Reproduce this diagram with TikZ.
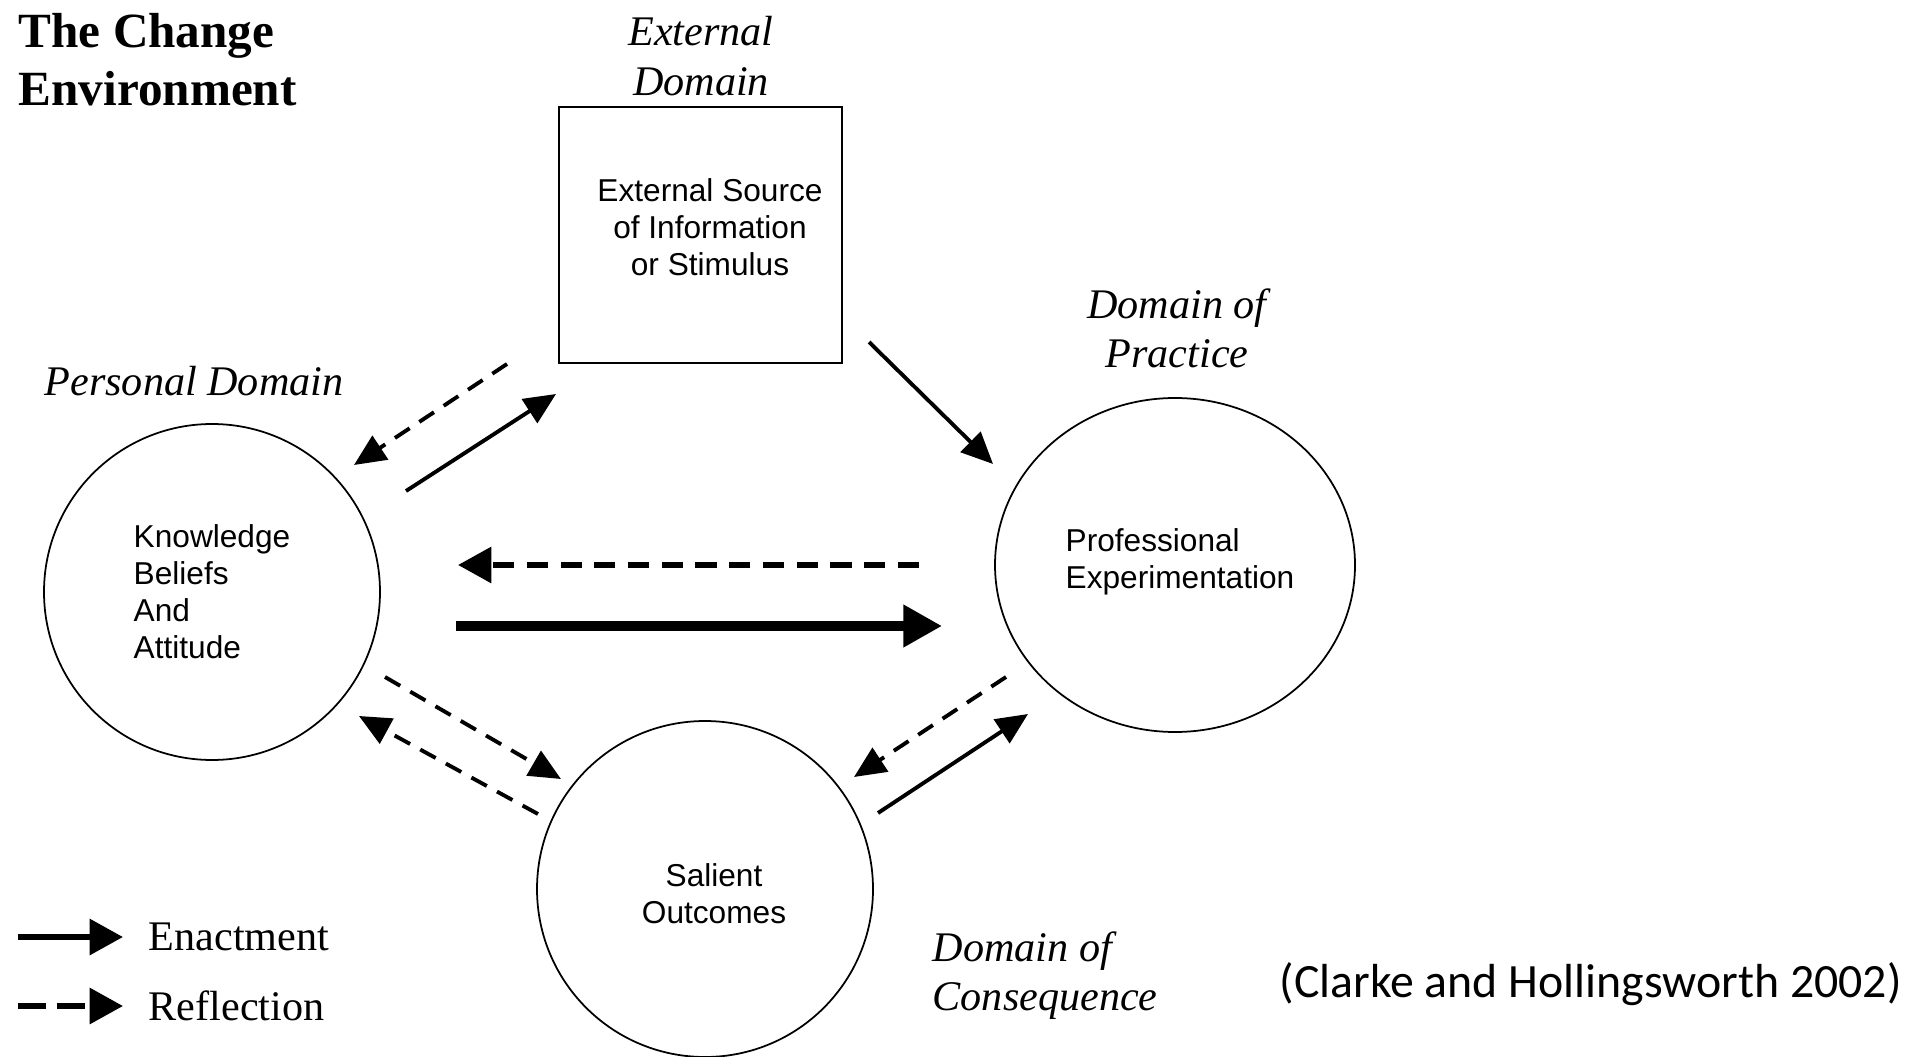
\documentclass[tikz,border=0pt]{standalone}
\usepackage{fontspec}
\setmainfont{Liberation Serif}
\newfontfamily\boxfont{Liberation Sans}
\newfontfamily\citefont{Carlito}
\usepackage{tikz}
\usetikzlibrary{arrows.meta,shapes.geometric}
\tikzset{
	domaine/.style={font=\fontsize{12}{14}\selectfont\itshape, align=center, inner sep=0pt},
	contenu/.style={font=\boxfont\fontsize{9}{10.5}\selectfont},
	cercle/.style={draw, circle, line width=0.5pt, minimum size=3.36cm, inner sep=0pt, contenu},
	enact/.style={line width=1.1pt, -{Triangle[length=9pt,width=8pt]}},
	reflect/.style={line width=1.1pt, dash pattern=on 5pt off 3.3pt, -{Triangle[length=9pt,width=8pt]}},
}

\begin{document}
\begin{tikzpicture}
		\useasboundingbox (0,0) rectangle (19.29,10.56);
		% titre et domaines
		\node[anchor=west, align=left, inner sep=0pt, font=\fontsize{14}{16.5}\selectfont\bfseries] (titre) at (0.18,9.96) {The Change\\Environment};
		\node[domaine] (extdom) at (7.01,10.0) {External\\Domain};
		\node[domaine] (pracdom) at (11.77,7.28) {Domain of\\Practice};
		\node[domaine] (persdom) at (1.94,6.75) {Personal Domain};
		\node[domaine, anchor=west, align=left] (consdom) at (9.32,0.80) {Domain of\\Consequence};
		
		% les quatre noeuds
		\node[draw, line width=0.6pt, minimum width=2.83cm, minimum height=2.56cm] (source) at (7.005,8.21) {};
		\node[contenu, align=center] (sourcetxt) at (7.10,8.29) {External Source\\of Information\\or Stimulus};
		\node[cercle, align=left] (kba) at (2.12,4.64) {Knowledge\\Beliefs\\And\\Attitude};
		\node[draw, ellipse, line width=0.5pt, minimum width=3.6cm, minimum height=3.34cm, inner sep=0pt] (pe) at (11.75,4.91) {};
		\node[contenu, align=left] (petxt) at (11.80,4.94) {Professional\\Experimentation};
		\node[cercle] (so) at (7.05,1.67) {};
		\node[contenu, align=center] (sotxt) at (7.14,1.62) {Salient\\Outcomes};
		
		% bouts des fleches
		\coordinate (a1) at (5.07,6.92); \coordinate (b1) at (3.54,5.91);
		\coordinate (a2) at (4.06,5.65); \coordinate (b2) at (5.56,6.62);
		\coordinate (a3) at (8.69,7.14); \coordinate (b3) at (9.93,5.92);
		\coordinate (a4) at (9.19,4.91); \coordinate (b4) at (4.58,4.91);
		\coordinate (a5) at (4.56,4.30); \coordinate (b5) at (9.42,4.30);
		\coordinate (a6) at (3.85,3.79); \coordinate (b6) at (5.61,2.77);
		\coordinate (a7) at (5.38,2.42); \coordinate (b7) at (3.59,3.40);
		\coordinate (a8) at (10.06,3.79); \coordinate (b8) at (8.54,2.79);
		\coordinate (a9) at (8.78,2.43); \coordinate (b9) at (10.28,3.42);
		
		\draw [reflect] (a1) -- (b1);
		\draw [enact] (a2) -- (b2);
		\draw [enact] (a3) -- (b3);
		\draw [reflect, line width=1.7pt, dash pattern=on 6pt off 3.6pt, -{Triangle[length=9.5pt,width=10pt]}] (a4) -- (b4);
		\draw [enact, line width=2.6pt, -{Triangle[length=11pt,width=11.5pt]}] (a5) -- (b5);
		\draw [reflect] (a6) -- (b6);
		\draw [reflect] (a7) -- (b7);
		\draw [reflect] (a8) -- (b8);
		\draw [enact] (a9) -- (b9);
		
		% legende
		\coordinate (l1) at (0.18,1.19); \coordinate (l1b) at (1.23,1.19);
		\coordinate (l2) at (0.18,0.50); \coordinate (l2b) at (1.23,0.50);
		\draw [enact, line width=1.7pt, -{Triangle[length=9.5pt,width=10pt]}] (l1) -- (l1b);
		\draw [reflect, line width=1.7pt, dash pattern=on 8pt off 3pt, -{Triangle[length=9.5pt,width=10pt]}] (l2) -- (l2b);
		\node[anchor=west, inner sep=0pt, font=\fontsize{12}{14}\selectfont] (enactment) at (1.48,1.19) {Enactment};
		\node[anchor=west, inner sep=0pt, font=\fontsize{12}{14}\selectfont] (reflection) at (1.48,0.50) {Reflection};
		
		\node[anchor=west, inner sep=0pt, font=\citefont\fontsize{13.6}{16}\selectfont] (cite) at (12.79,0.72) {(Clarke and Hollingsworth 2002)};
	\end{tikzpicture}
\end{document}
